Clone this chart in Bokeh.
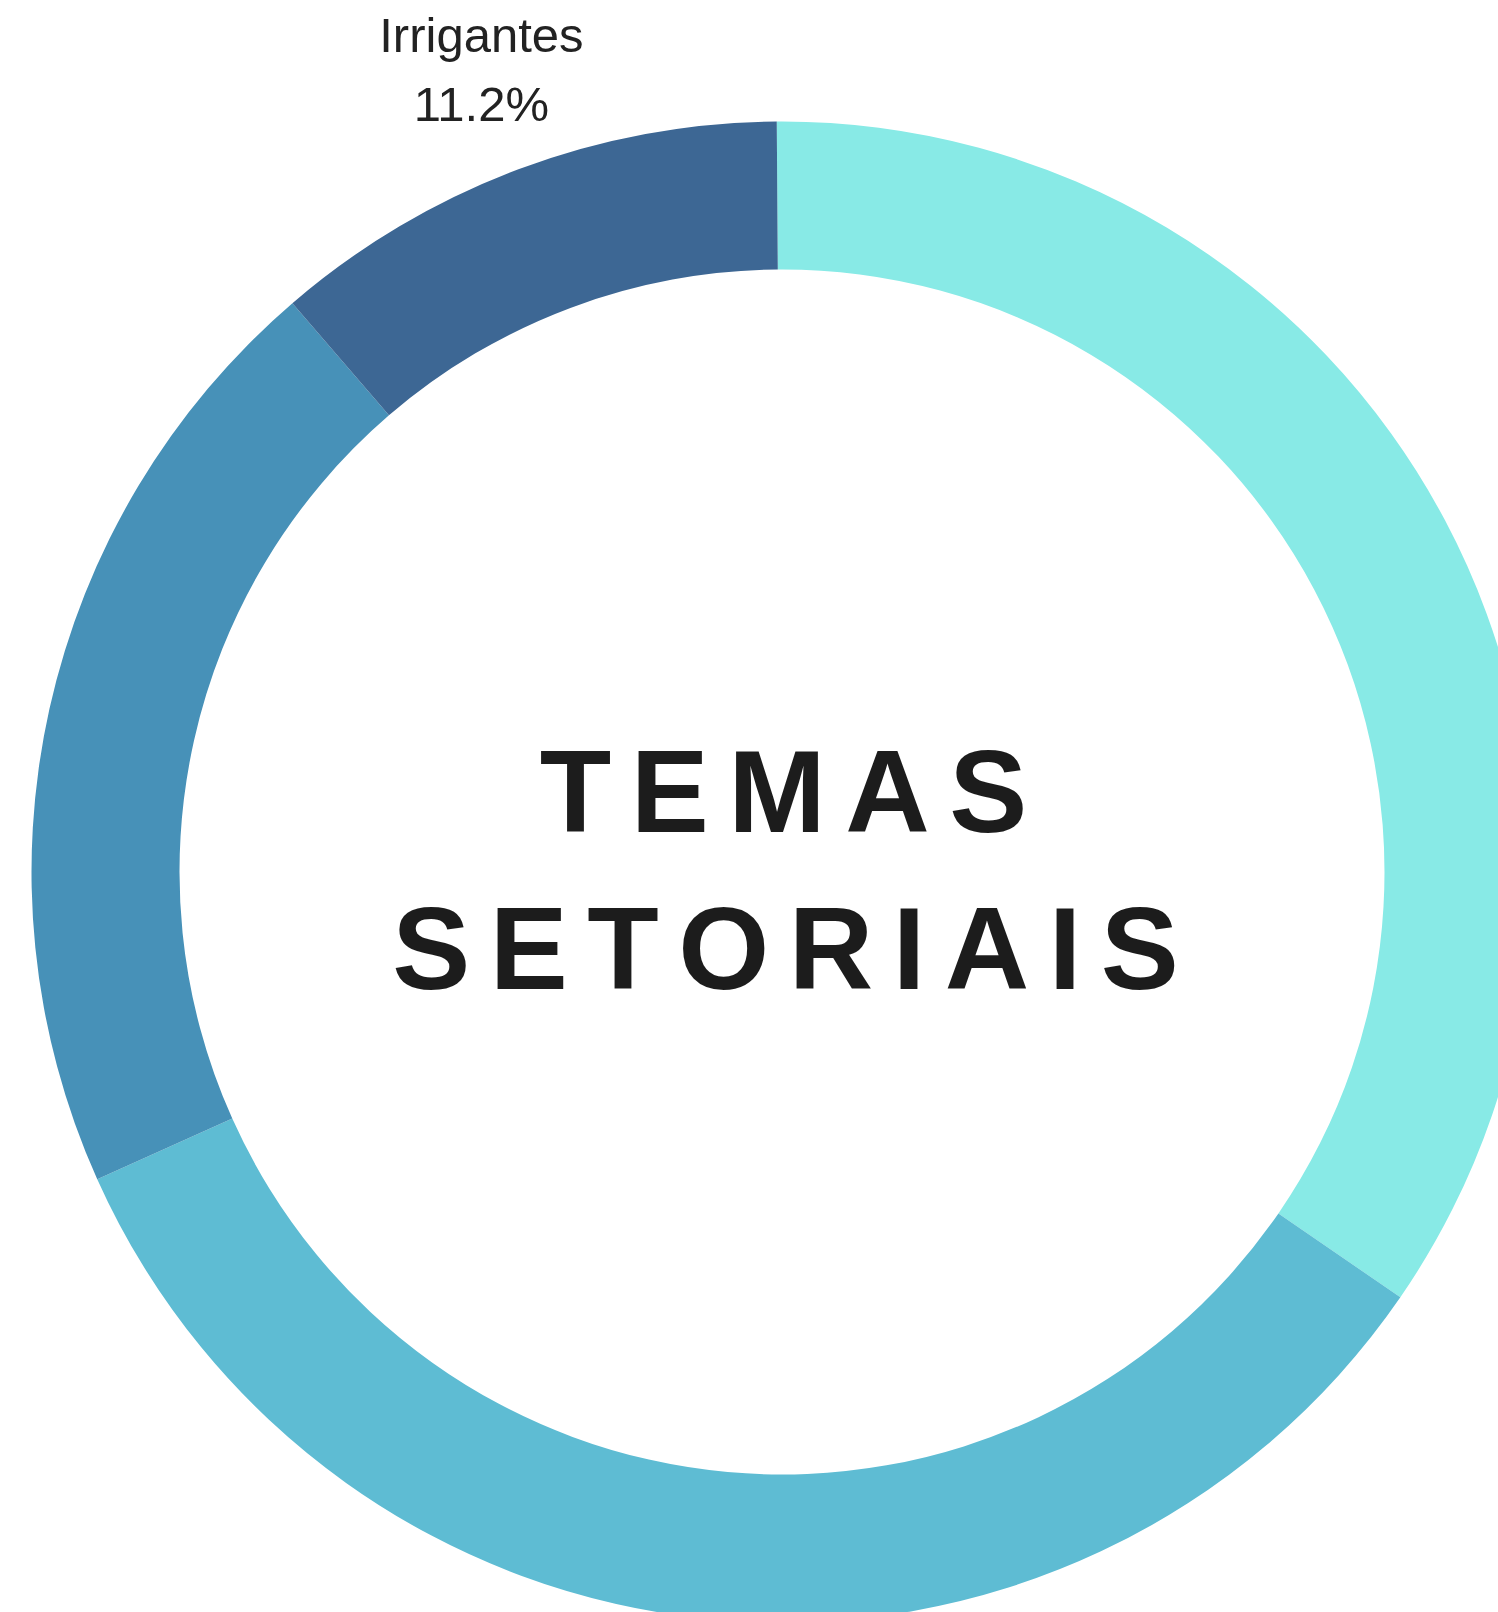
import numpy as np
from bokeh.plotting import figure
from bokeh.models import Range1d, ColumnDataSource
from bokeh.core.properties import value
from bokeh.embed import file_html
from bokeh.resources import INLINE

# ---- data ----
categories = ["Setor A", "Setor B", "Setor C", "Irrigantes"]
shares = [34.7, 33.7, 20.4, 11.2]
colors = ["#88eae6", "#5ebcd3", "#4791b8", "#3d6794"]
labelled = ["Irrigantes"]
title_lines = ["TEMAS", "SETORIAIS"]

# ---- geometry (data unit == 1 px, data x == page x) ----
W, H = 1498, 1612
BASE_K = 0.38      # measured baseline correction (fraction of font size)

cx = 781.5
cy_page = 871.5
cy = H - cy_page
r_in, r_out = 602.5, 750.5
label_r = 856
rot = -0.4         # start of first slice, degrees clockwise from 12 o'clock

def ty(screen_baseline, fs):
    return H - screen_baseline + BASE_K * fs

vals = np.array(shares, dtype=float)
cum = np.concatenate([[0.0], np.cumsum(vals)]) / vals.sum() * 360.0 + rot
theta1 = cum[:-1]
theta2 = cum[1:]
start = np.radians(90.0 - theta2)
end = np.radians(90.0 - theta1)

src = ColumnDataSource(dict(start=start, end=end, color=colors, cat=categories))

p = figure(width=W, height=H, x_range=Range1d(0, W), y_range=Range1d(0, H),
           output_backend="svg", toolbar_location=None, min_border=0,
           background_fill_color="white", border_fill_color="white")
p.axis.visible = False
p.grid.visible = False
p.outline_line_color = None

p.annular_wedge(x=cx, y=cy, inner_radius=r_in, outer_radius=r_out,
                start_angle="start", end_angle="end", fill_color="color",
                line_color=None, source=src)

# labels outside the ring
lfs = 49
mid = (theta1 + theta2) / 2.0
for cat, share, m in zip(categories, shares, mid):
    if cat not in labelled:
        continue
    lx = cx + label_r * np.sin(np.radians(m))
    lsy = cy_page - label_r * np.cos(np.radians(m))   # page y of label block centre
    p.text(x=[lx], y=[ty(lsy - 17, lfs)], text=[cat], text_align="center",
           text_baseline="alphabetic", text_font=value("Liberation Sans"),
           text_font_size=f"{lfs}px", text_color="#222222")
    p.text(x=[lx], y=[ty(lsy + 52, lfs)], text=[f"{share:.1f}%"], text_align="center",
           text_baseline="alphabetic", text_font=value("Liberation Sans"),
           text_font_size=f"{lfs}px", text_color="#222222")

# centre title with letter spacing
tfs = 117
spaced = ["\u2006".join(t) for t in title_lines]
p.text(x=[cx + 1.5, cx + 3.5], y=[ty(835, tfs), ty(992, tfs)], text=spaced,
       text_align="center", text_baseline="alphabetic",
       text_font=value("Liberation Sans"), text_font_style="bold",
       text_font_size=f"{tfs}px", text_color="#1c1c1c")

open("out.html", "w").write(file_html(p, INLINE))
